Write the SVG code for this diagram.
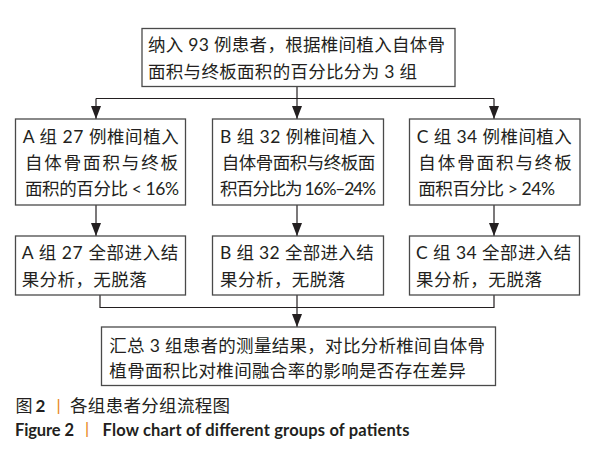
<svg xmlns="http://www.w3.org/2000/svg" width="592" height="450" viewBox="0 0 592 450">
<style>
.box{fill:#fff;stroke:#4a4a4a;stroke-width:1.3}
.t{font-family:'Lato','Noto Sans CJK SC',sans-serif;font-size:17.5px;fill:#231f20}
.c{fill:none;stroke:#231f20;stroke-width:1.2}
.cap{font-family:'Lato','Noto Sans CJK SC',sans-serif;fill:#231f20}
.pipe{font-family:'Liberation Sans',sans-serif;fill:#e8891d}
</style>
<defs>
<marker id="a" viewBox="0 0 13 10" refX="13" refY="5" markerWidth="13" markerHeight="10" orient="auto" markerUnits="userSpaceOnUse">
<path d="M0,0 L13,5 L0,10 z" fill="#231f20"/>
</marker>
</defs>

<g id="connectors">
<path class="c" d="M297,86.5 V98.5 M96,98.5 H494"/>
<path class="c" d="M96,98.5 V119" marker-end="url(#a)"/>
<path class="c" d="M297,98.5 V119" marker-end="url(#a)"/>
<path class="c" d="M494,98.5 V119" marker-end="url(#a)"/>
<path class="c" d="M96,205 V236" marker-end="url(#a)"/>
<path class="c" d="M297,205 V236" marker-end="url(#a)"/>
<path class="c" d="M494,205 V236" marker-end="url(#a)"/>
<path class="c" d="M100,295 V307.5 H494 V295 M297,295 V307.5"/>
<path class="c" d="M297,307.5 V327" marker-end="url(#a)"/>
</g>

<g id="top">
<rect class="box" x="142" y="28.5" width="313" height="58"/>
<text class="t" x="148" y="50.5" textLength="297" lengthAdjust="spacing">纳入 93 例患者，根据椎间植入自体骨</text>
<text class="t" x="148" y="77.5" textLength="269" lengthAdjust="spacing">面积与终板面积的百分比分为 3 组</text>
</g>

<g id="groupA1">
<rect class="box" x="15.5" y="119" width="170" height="86"/>
<text class="t" x="22.7" y="142.5" textLength="156" lengthAdjust="spacing">A 组 27 例椎间植入</text>
<text class="t" x="25" y="169" textLength="153" lengthAdjust="spacing">自体骨面积与终板</text>
<text class="t" x="25" y="195" textLength="154" lengthAdjust="spacing">面积的百分比 &lt; 16%</text>
</g>

<g id="groupB1">
<rect class="box" x="212.5" y="119" width="171" height="86"/>
<text class="t" x="220" y="142.5" textLength="155" lengthAdjust="spacing">B 组 32 例椎间植入</text>
<text class="t" x="221.7" y="169" textLength="153.5" lengthAdjust="spacing">自体骨面积与终板面</text>
<text class="t" x="220" y="195" textLength="156" lengthAdjust="spacing">积百分比为 16%–24%</text>
</g>

<g id="groupC1">
<rect class="box" x="409.5" y="119" width="170.5" height="86"/>
<text class="t" x="416.7" y="142.5" textLength="155" lengthAdjust="spacing">C 组 34 例椎间植入</text>
<text class="t" x="418.3" y="169" textLength="153.5" lengthAdjust="spacing">自体骨面积与终板</text>
<text class="t" x="418.3" y="195" textLength="136.7" lengthAdjust="spacing">面积百分比 &gt; 24%</text>
</g>

<g id="groupA2">
<rect class="box" x="15.5" y="236" width="170" height="59"/>
<text class="t" x="21.7" y="259" textLength="156.6" lengthAdjust="spacing">A 组 27 全部进入结</text>
<text class="t" x="21.7" y="286" textLength="125" lengthAdjust="spacing">果分析，无脱落</text>
</g>

<g id="groupB2">
<rect class="box" x="212.5" y="236" width="171" height="59"/>
<text class="t" x="220" y="259" textLength="153.7" lengthAdjust="spacing">B 组 32 全部进入结</text>
<text class="t" x="220" y="286" textLength="125.3" lengthAdjust="spacing">果分析，无脱落</text>
</g>

<g id="groupC2">
<rect class="box" x="409.5" y="236" width="170" height="59"/>
<text class="t" x="416" y="259" textLength="155.3" lengthAdjust="spacing">C 组 34 全部进入结</text>
<text class="t" x="416" y="286" textLength="126" lengthAdjust="spacing">果分析，无脱落</text>
</g>

<g id="summary">
<rect class="box" x="101.5" y="327" width="394" height="58.5"/>
<text class="t" x="109.3" y="351.5" textLength="375.7" lengthAdjust="spacing">汇总 3 组患者的测量结果，对比分析椎间自体骨</text>
<text class="t" x="109.3" y="377" textLength="356.4" lengthAdjust="spacing">植骨面积比对椎间融合率的影响是否存在差异</text>
</g>

<g id="caption">
<text class="cap" x="15.5" y="411.5" font-size="17">图</text>
<text class="cap" x="35.5" y="411.5" font-size="17" font-weight="bold">2</text>
<text class="pipe" x="56.5" y="410.5" font-size="16">|</text>
<text class="cap" x="70" y="411.5" font-size="17.5" textLength="160" lengthAdjust="spacing">各组患者分组流程图</text>
<text class="cap" x="15" y="435.5" font-size="16.5" font-weight="bold" textLength="59" lengthAdjust="spacing">Figure 2</text>
<text class="pipe" x="85" y="434" font-size="16">|</text>
<text class="cap" x="102.6" y="435.5" font-size="16.5" font-weight="bold" textLength="306.8" lengthAdjust="spacing">Flow chart of different groups of patients</text>
</g>
</svg>
